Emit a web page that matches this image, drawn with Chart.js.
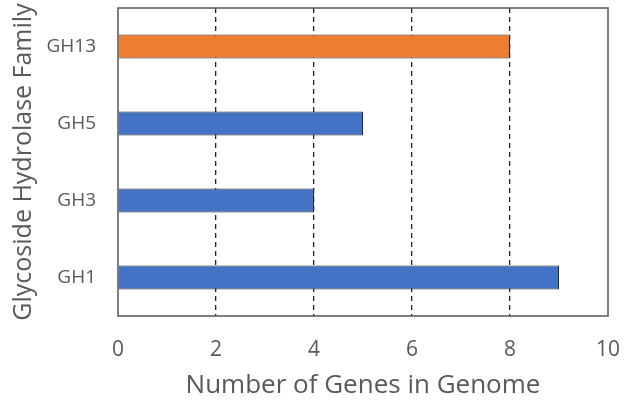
<!DOCTYPE html>
<html>
<head>
<meta charset="utf-8">
<script src="https://cdn.jsdelivr.net/npm/chart.js@4"></script>
<style>
  html, body { margin: 0; padding: 0; background: #fff; }
  #wrap { width: 624px; height: 405px; }
</style>
</head>
<body>
<div id="wrap"><canvas id="c" width="624" height="405"></canvas></div>
<script>
const families = ['GH13', 'GH5', 'GH3', 'GH1']
const geneCounts = [8, 5, 4, 9]
const highlighted = ['GH13']
const xTicks = [0, 2, 4, 6, 8, 10]

const orange = '#ED7D31'
const blue = '#4472C4'
const textGray = '#595959'
const font = "Open Sans, Lato, sans-serif"

// plot frame drawn over the bars, like the spreadsheet original
const frame = {
  id: 'frame',
  afterDatasetsDraw(chart) {
    const a = chart.chartArea
    const ctx = chart.ctx
    ctx.save()
    ctx.strokeStyle = '#555'
    ctx.lineWidth = 1.5
    ctx.strokeRect(a.left, a.top, a.right - a.left, a.bottom - a.top)
    ctx.restore()
  }
}

new Chart(document.getElementById('c'), {
  type: 'bar',
  data: {
    labels: families,
    datasets: [{
      data: geneCounts,
      backgroundColor: families.map(f => highlighted.includes(f) ? orange : blue),
      borderColor: '#2b2b2b',
      borderWidth: 1,
      barPercentage: 0.31,
      categoryPercentage: 1
    }]
  },
  options: {
    indexAxis: 'y',
    responsive: false,
    animation: false,
    layout: { padding: { top: 8, right: 16, left: 5 } },
    plugins: { legend: { display: false }, tooltip: { enabled: false } },
    scales: {
      x: {
        min: 0, max: 10,
        afterBuildTicks: s => { s.ticks = xTicks.map(v => ({ value: v })) },
        afterFit: s => { s.height = 89; s.paddingLeft = 0; s.paddingRight = 0 },
        ticks: { color: textGray, font: { family: font, size: 21 }, padding: 21 },
        grid: {
          drawTicks: false,
          color: c => (c.tick && c.tick.value > 0 && c.tick.value < 10) ? '#222' : 'rgba(0,0,0,0)',
          lineWidth: 1.3
        },
        border: { display: false, dash: [5, 4] },
        title: {
          display: true, text: 'Number of Genes in Genome',
          color: textGray, font: { family: font, size: 26 }, padding: { top: 0 }
        }
      },
      y: {
        afterFit: s => { s.width = 113; s.paddingTop = 0; s.paddingBottom = 0 },
        ticks: { color: textGray, font: { family: font, size: 19 }, padding: 22 },
        grid: { display: false, drawTicks: false },
        border: { display: false },
        title: {
          display: true, text: 'Glycoside Hydrolase Family',
          color: textGray, font: { family: font, size: 25 }, padding: { bottom: 0 }
        }
      }
    }
  },
  plugins: [frame]
})
</script>
</body>
</html>
